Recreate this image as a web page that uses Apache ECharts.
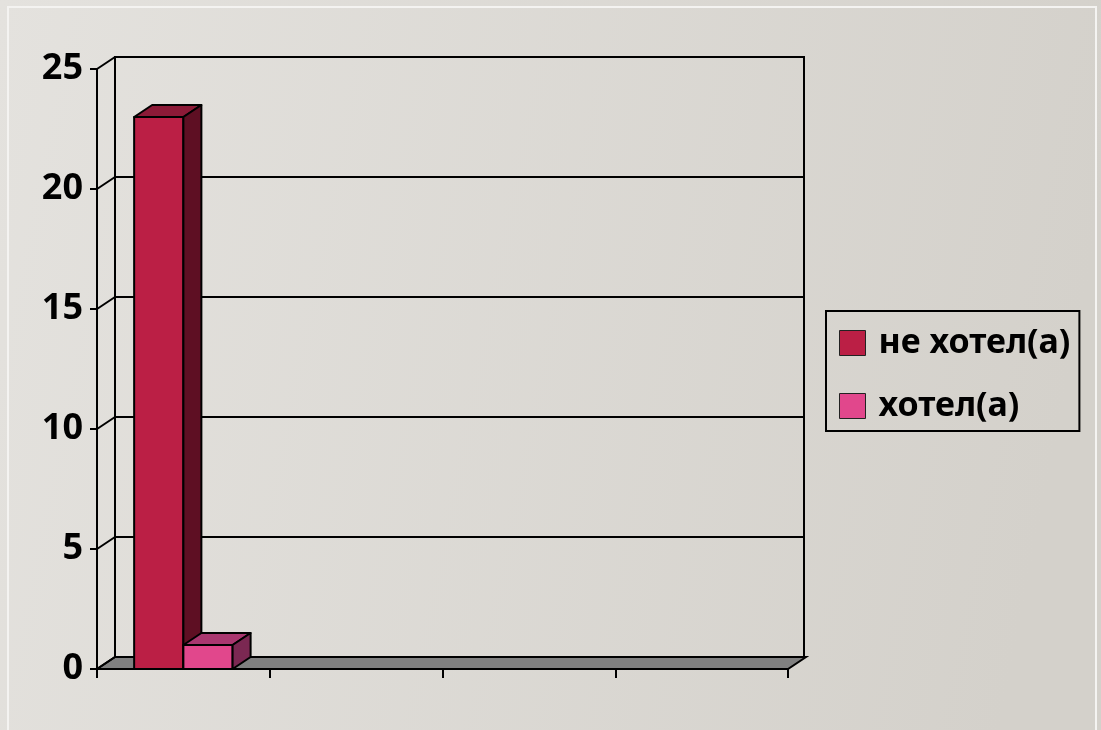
<!DOCTYPE html>
<html><head><meta charset="utf-8">
<script src="https://cdn.jsdelivr.net/npm/echarts@6/dist/echarts.min.js"></script>
<style>html,body{margin:0;padding:0;overflow:hidden;}#c{width:1101px;height:730px;}</style>
</head><body><div id="c"></div>
<script>
// ---- data ----
const categories = ['1', '2', '3', '4'];
const seriesNames = ['не хотел(а)', 'хотел(а)'];
const neKhotel = [23, null, null, null];
const khotel = [1, null, null, null];
const yTicks = [0, 5, 10, 15, 20, 25];

// ---- style ----
const DX = 18, DY = -12;          // 3D depth offset (px)
const BAR_FRAC = 0.285;           // bar width as fraction of category band
const LW = 2;
const faceColors = [
  { front: '#BB1F45', top: '#8C1A37', side: '#5E0F23' },
  { front: '#E1478C', top: '#A9376F', side: '#7B2852' }
];

const chart = echarts.init(document.getElementById('c'), null, { renderer: 'canvas' });

function barRender(k) {
  return function (params, api) {
    const v = api.value(1);
    if (v == null || isNaN(v)) return null;
    const band = api.size([1, 0])[0];
    const bw = band * BAR_FRAC;
    const c = api.coord([api.value(0), v]);
    const b = api.coord([api.value(0), 0]);
    const x0 = c[0] + (k - 1) * bw, x1 = x0 + bw;
    const yT = c[1], yB = b[1];
    const col = faceColors[k];
    const st = (fill) => ({ fill: fill, stroke: '#000', lineWidth: LW, lineJoin: 'round' });
    return {
      type: 'group',
      children: [
        { type: 'polygon', shape: { points: [[x0, yT], [x1, yT], [x1, yB], [x0, yB]] }, style: st(col.front) },
        { type: 'polygon', shape: { points: [[x0, yT], [x0 + DX, yT + DY], [x1 + DX, yT + DY], [x1, yT]] }, style: st(col.top) },
        { type: 'polygon', shape: { points: [[x1, yT], [x1 + DX, yT + DY], [x1 + DX, yB + DY], [x1, yB]] }, style: st(col.side) }
      ]
    };
  };
}

const option = {
  backgroundColor: {
    type: 'linear', x: 0, y: 0, x2: 1, y2: 0.3,
    colorStops: [{ offset: 0, color: '#E4E2DE' }, { offset: 1, color: '#D4D1CB' }]
  },
  animation: false,
  graphic: [{
    type: 'rect', silent: true, z: -1,
    shape: { x: 8, y: 7, width: 1088, height: 760 },
    style: { fill: 'none', stroke: '#F4F3F1', lineWidth: 2 }
  }],
  grid: [
    { left: 115, top: 57, width: 689, height: 600, show: true, borderColor: '#000', borderWidth: LW, backgroundColor: 'transparent' },
    { left: 97, top: 69, width: 691, height: 600 }
  ],
  xAxis: [
    { gridIndex: 0, type: 'category', data: categories, axisLine: { show: true, lineStyle: { color: '#000', width: LW } }, axisTick: { show: false }, axisLabel: { show: false }, splitLine: { show: false } },
    { gridIndex: 1, type: 'category', data: categories, axisLine: { show: true, lineStyle: { color: '#000', width: LW } },
      axisTick: { show: true, length: 9, lineStyle: { color: '#000', width: LW } }, axisLabel: { show: false }, splitLine: { show: false } }
  ],
  yAxis: [
    { gridIndex: 0, type: 'value', min: 0, max: 25, interval: 5, axisLine: { show: true, lineStyle: { color: '#000', width: LW } }, axisTick: { show: false }, axisLabel: { show: false },
      splitLine: { show: true, lineStyle: { color: '#000', width: LW } } },
    { gridIndex: 1, type: 'value', min: 0, max: 25, interval: 5,
      axisLine: { show: true, lineStyle: { color: '#000', width: LW } },
      axisTick: { show: true, length: 7, lineStyle: { color: '#000', width: LW } },
      axisLabel: { show: true, margin: 14, color: '#000', fontSize: 36, fontWeight: 'bold', fontFamily: 'Noto Sans', formatter: (v) => String(v) },
      splitLine: { show: false } }
  ],
  legend: {
    data: seriesNames, orient: 'vertical', left: 826, top: 311,
    padding: [15, 9, 8, 13], itemWidth: 26, itemHeight: 25, itemGap: 29,
    borderColor: '#000', borderWidth: LW, icon: 'rect',
    itemStyle: { borderColor: '#222', borderWidth: 1 },
    textStyle: { fontSize: 34, fontWeight: 'bold', fontFamily: 'Noto Sans', color: '#000', padding: [0, 0, 0, 8] }
  },
  series: [
    { // floor
      type: 'custom', xAxisIndex: 1, yAxisIndex: 1, silent: true, z: 1,
      data: [[0, 0]],
      renderItem: function (params, api) {
        const band = api.size([1, 0])[0];
        const l = api.coord([0, 0]);
        const r = api.coord([categories.length - 1, 0]);
        const x0 = l[0] - band / 2, x1 = r[0] + band / 2, y = l[1];
        return { type: 'polygon', shape: { points: [[x0, y], [x1, y], [x1 + DX, y + DY], [x0 + DX, y + DY]] },
          style: { fill: '#808080', stroke: '#000', lineWidth: LW } };
      }
    },
    { // connectors between front axis ticks and back wall
      type: 'custom', xAxisIndex: 1, yAxisIndex: 1, silent: true, z: 1,
      data: yTicks.map(v => [0, v]),
      renderItem: function (params, api) {
        const band = api.size([1, 0])[0];
        const p = api.coord([0, api.value(1)]);
        const x = p[0] - band / 2;
        return { type: 'line', shape: { x1: x, y1: p[1], x2: x + DX, y2: p[1] + DY }, style: { stroke: '#000', lineWidth: LW } };
      }
    },
    { name: seriesNames[0], type: 'custom', xAxisIndex: 1, yAxisIndex: 1, z: 3,
      itemStyle: { color: faceColors[0].front },
      data: neKhotel.map((v, i) => [i, v]), renderItem: barRender(0) },
    { name: seriesNames[1], type: 'custom', xAxisIndex: 1, yAxisIndex: 1, z: 4,
      itemStyle: { color: faceColors[1].front },
      data: khotel.map((v, i) => [i, v]), renderItem: barRender(1) }
  ]
};
chart.setOption(option);
</script>
</body></html>
